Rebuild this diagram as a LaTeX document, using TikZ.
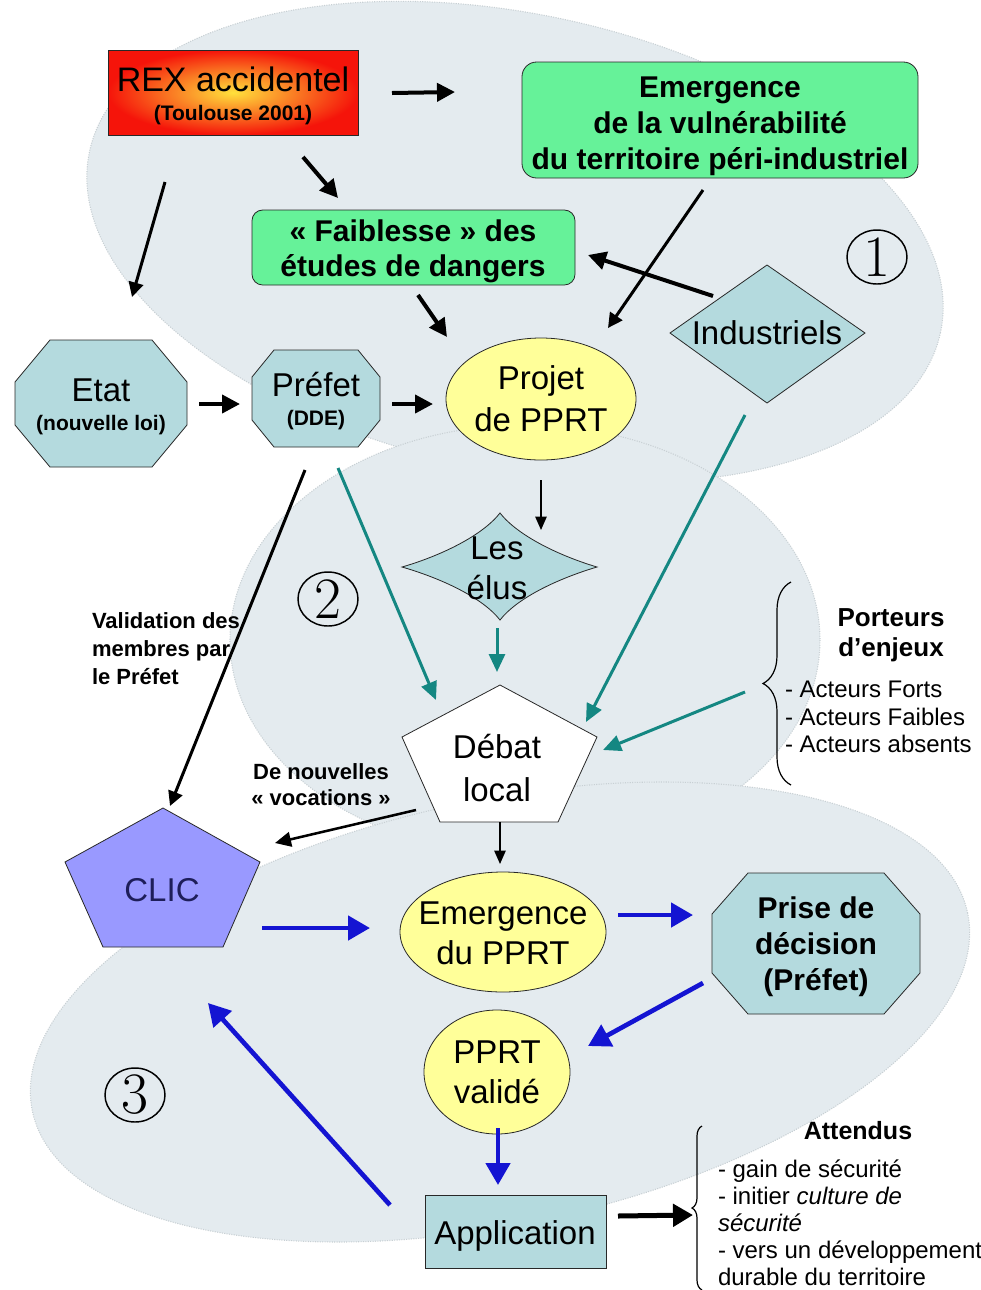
\documentclass[tikz,border=0pt]{standalone}
\usepackage{fontspec}
\setsansfont{Liberation Sans}
\renewcommand{\familydefault}{\sfdefault}
\usetikzlibrary{arrows.meta,calc,decorations.pathreplacing}
\pgfdeclarelayer{bg}
\pgfdeclarelayer{shp}
\pgfsetlayers{bg,shp,main}
\definecolor{bgc}{RGB}{228,235,239}
\definecolor{bgline}{RGB}{200,208,212}
\definecolor{lblue}{RGB}{180,218,222}
\definecolor{lgreen}{RGB}{102,242,153}
\definecolor{lyellow}{RGB}{255,255,153}
\definecolor{clicc}{RGB}{153,153,255}
\definecolor{clict}{RGB}{30,30,90}
\definecolor{tealc}{RGB}{20,135,130}
\definecolor{bluec}{RGB}{20,20,210}
\definecolor{linec}{RGB}{40,40,40}
\newcommand\fBg{\fontsize{24.75pt}{30pt}\selectfont}
\newcommand\fBd{\fontsize{22.5pt}{27pt}\selectfont\bfseries}
\begin{document}
\begin{tikzpicture}[x=0.75pt,y=-0.75pt,
  shapeln/.style={draw=linec, line width=0.6pt},
  ellbg/.style={fill=bgc, draw=bgline, line width=0.8pt, densely dotted},
  txt/.style={inner sep=0pt, outer sep=0pt, align=center},
  ablk/.style={line width=3pt, -{Triangle[length=13.5pt,width=13.5pt]}},
  ablkm/.style={line width=2.25pt, -{Triangle[length=11pt,width=11pt]}},
  athin/.style={line width=1.1pt, -{Triangle[length=10pt,width=8.5pt]}},
  ateal/.style={draw=tealc, line width=2.25pt, -{Triangle[length=13.5pt,width=12pt]}},
  ablue/.style={draw=bluec, line width=3.5pt, -{Triangle[length=16.5pt,width=18pt]}},
  brc/.style={decorate, line width=0.9pt},
  numc/.style={draw=black, line width=1.1pt}]
\useasboundingbox (0,0) rectangle (981,1290);

% ---------- background ellipses
\begin{pgfonlayer}{bg}
\fill[white] (0,0) rectangle (981,1290);
\path[ellbg, rotate around={-12:(515,242)}] (515,242) ellipse [x radius=435, y radius=228];
\path[ellbg] (525,640) ellipse [x radius=295, y radius=215];
\path[ellbg, rotate around={12:(500,1012)}] (500,1012) ellipse [x radius=478, y radius=212];
\end{pgfonlayer}

% ---------- shapes
\begin{pgfonlayer}{shp}
% REX
\shade[inner color={rgb,255:red,255;green,225;blue,60}, outer color={rgb,255:red,245;green,20;blue,10}] (108,50) rectangle (358,135);
\draw[shapeln] (108,50) rectangle (358,135);
% Emergence box
\draw[shapeln, fill=lgreen, rounded corners=11pt] (522,62) rectangle (918,178);
% Faiblesse
\draw[shapeln, fill=lgreen, rounded corners=8pt] (252,210) rectangle (575,285);
% Industriels diamond
\draw[shapeln, fill=lblue] (670,333) -- (767,265) -- (865,333) -- (767,403) -- cycle;
% Etat octagon
\draw[shapeln, fill=lblue] (50,340) -- (152,340) -- (187,382) -- (187,425) -- (152,467) -- (50,467) -- (15,425) -- (15,382) -- cycle;
% Prefet octagon
\draw[shapeln, fill=lblue] (274,350) -- (358,350) -- (380,377) -- (380,420) -- (358,447) -- (274,447) -- (252,420) -- (252,377) -- cycle;
% Projet ellipse
\draw[shapeln, fill=lyellow] (541,399) ellipse [x radius=95, y radius=61];
% Les elus star
\draw[shapeln, fill=lblue] (500,513) .. controls (518,536) and (560,556) .. (597,567)
  .. controls (560,578) and (518,597) .. (500,620)
  .. controls (482,597) and (440,578) .. (402,567)
  .. controls (440,556) and (482,536) .. (500,513) -- cycle;
% Debat pentagon
\draw[shapeln, fill=white] (500,685) -- (597,737) -- (558,822) -- (440,822) -- (402,737) -- cycle;
% CLIC pentagon
\draw[shapeln, fill=clicc] (163,808) -- (260,862) -- (223,947) -- (103,947) -- (65,862) -- cycle;
% Emergence du PPRT
\draw[shapeln, fill=lyellow] (503,932) ellipse [x radius=103, y radius=60];
% Prise de decision octagon
\draw[shapeln, fill=lblue] (748,873) -- (884,873) -- (920,914) -- (920,973) -- (884,1014) -- (748,1014) -- (712,973) -- (712,914) -- cycle;
% PPRT valide
\draw[shapeln, fill=lyellow] (497,1072) ellipse [x radius=73, y radius=62];
% Application
\draw[shapeln, fill=lblue] (425,1195) rectangle (606,1268);
% circled numbers
\draw[numc] (877,257) ellipse [x radius=30, y radius=27];
\draw[numc] (328,599) ellipse [x radius=30, y radius=27];
\draw[numc] (135,1095) ellipse [x radius=30, y radius=27];
\end{pgfonlayer}

% ---------- text nodes
\node[txt, font={\fontsize{15.75pt}{21.3pt}\selectfont\bfseries}] (rex) at (233,96)
  {{\fontsize{25.5pt}{21.3pt}\selectfont\mdseries REX accidentel}\\(Toulouse 2001)};
\node[txt, font=\fBd] (emerg) at (720,126) {Emergence\\de la vulnérabilité\\du territoire péri-industriel};
\node[txt, font={\fontsize{22.5pt}{26.25pt}\selectfont\bfseries}] (faib) at (413,251) {« Faiblesse » des\\études de dangers};
\node[txt, font=\fBg] (ind) at (767,333) {Industriels};
\node[txt, font={\fontsize{15.75pt}{21.5pt}\selectfont\bfseries}] (etat) at (101,407)
  {{\fontsize{24.75pt}{21.5pt}\selectfont\mdseries Etat}\\(nouvelle loi)};
\node[txt, font={\fontsize{15.75pt}{21.5pt}\selectfont\bfseries}] (prefet) at (316,401)
  {{\fontsize{24.75pt}{21.5pt}\selectfont\mdseries Préfet}\\(DDE)};
\node[txt, font={\fontsize{24.75pt}{31.5pt}\selectfont}] (projet) at (541,399) {Projet\\de PPRT};
\node[txt, font={\fontsize{24.75pt}{30pt}\selectfont}] (elus) at (497,568) {Les\\élus};
\node[txt, font={\fontsize{24.75pt}{32.25pt}\selectfont}] (debat) at (497,768) {Débat\\local};
\node[txt, font=\fBg, text=clict] (clic) at (162,890) {CLIC};
\node[txt, font={\fontsize{24.75pt}{30pt}\selectfont}] (empprt) at (503,933) {Emergence\\du PPRT};
\node[txt, font=\fBd] (prise) at (816,947) {Prise de\\décision\\(Préfet)};
\node[txt, font={\fontsize{24.75pt}{30pt}\selectfont}] (valide) at (497,1072) {PPRT\\validé};
\node[txt, font=\fBg] (app) at (515,1236) {Application};
\node[txt, font={\fontsize{16.5pt}{21pt}\selectfont\bfseries}, align=left, anchor=west] (valid) at (92,649)
  {Validation des\\membres par\\le Préfet};
\node[txt, font={\fontsize{16.5pt}{19.5pt}\selectfont\bfseries}] (vocations) at (321,785) {De nouvelles\\« vocations »};
\node[txt, font={\fontsize{19.5pt}{22.5pt}\selectfont\bfseries}] (porteurs) at (891,635) {Porteurs\\d’enjeux};
\node[txt, font={\fontsize{18pt}{20.6pt}\selectfont}, align=left, anchor=west] (acteurs) at (785,717)
  {- Acteurs Forts\\- Acteurs Faibles\\- Acteurs absents};
\node[txt, font={\fontsize{18.75pt}{22pt}\selectfont\bfseries}] (attendus) at (858,1131) {Attendus};
\node[txt, font={\fontsize{18pt}{20.2pt}\selectfont}, align=left, anchor=west] (attlist) at (718,1223)
  {- gain de sécurité\\- initier \textit{culture de}\\\textit{sécurité}\\- vers un développement\\durable du territoire};
\node[txt, font={\rmfamily\fontsize{44pt}{44pt}\selectfont}] (n1) at (877,257) {1};
\node[txt, font={\rmfamily\fontsize{44pt}{44pt}\selectfont}] (n2) at (328,599) {2};
\node[txt, font={\rmfamily\fontsize{44pt}{44pt}\selectfont}] (n3) at (135,1095) {3};

% ---------- braces
\coordinate (br1a) at (791,785);
\coordinate (br1b) at (791,582);
\draw[brc, decoration={brace, amplitude=21pt}] (br1a) -- (br1b);
\coordinate (br2a) at (702,1290);
\coordinate (br2b) at (702,1126);
\draw[brc, decoration={brace, amplitude=7.5pt}] (br2a) -- (br2b);

% ---------- black connectors
\draw[ablk] ($(rex)+(159,-3)$) -- ($(emerg)+(-265,-34)$);
\draw[ablk] ($(rex)+(70,61)$) -- ($(faib)+(-75,-53)$);
\draw[ablkm] ($(rex)+(-68,86)$) -- ($(etat)+(31,-110)$);
\draw[ablkm] ($(emerg)+(-17,64)$) -- ($(projet)+(67,-71)$);
\draw[ablk] ($(ind)+(-54,-37)$) -- ($(faib)+(175,4)$);
\draw[ablk] ($(faib)+(5,44)$) -- ($(projet)+(-94,-62)$);
\draw[ablk] ($(etat)+(98,-3)$) -- ($(prefet)+(-76,3)$);
\draw[ablk] ($(prefet)+(76,3)$) -- ($(projet)+(-108,5)$);
\draw[athin] ($(projet)+(0,81)$) -- ($(elus)+(44,-38)$);
\draw[ablkm] ($(prefet)+(-11,69)$) -- ($(clic)+(8,-84)$);
\draw[line width=1.9pt, -{Triangle[length=12pt,width=11pt]}] ($(debat)+(-81,42)$) -- ($(clic)+(113,-47)$);
\draw[athin] ($(debat)+(3,54)$) -- ($(empprt)+(-3,-69)$);
\draw[line width=3.75pt, -{Triangle[length=15pt,width=16.5pt]}] ($(app)+(103,-20)$) -- ($(attlist.west)+(-25,-8)$);

% ---------- teal connectors
\draw[ateal] ($(prefet)+(22,67)$) -- ($(debat)+(-61,-68)$);
\draw[ateal] ($(elus)+(0,60)$) -- ($(debat)+(0,-96)$);
\draw[ateal] ($(ind)+(-22,82)$) -- ($(debat)+(89,-46)$);
\draw[ateal] ($(acteurs.west)+(-40,-25)$) -- ($(debat)+(106,-18)$);

% ---------- blue connectors
\draw[ablue] ($(clic)+(100,38)$) -- ($(empprt)+(-133,-5)$);
\draw[ablue] ($(empprt)+(115,-18)$) -- ($(prise)+(-123,-32)$);
\draw[ablue] ($(prise)+(-113,36)$) -- ($(valide)+(91,-26)$);
\draw[ablue] ($(valide)+(1,56)$) -- ($(app)+(-17,-51)$);
\draw[ablue] ($(app)+(-125,-31)$) -- ($(clic)+(46,113)$);
\end{tikzpicture}
\end{document}
